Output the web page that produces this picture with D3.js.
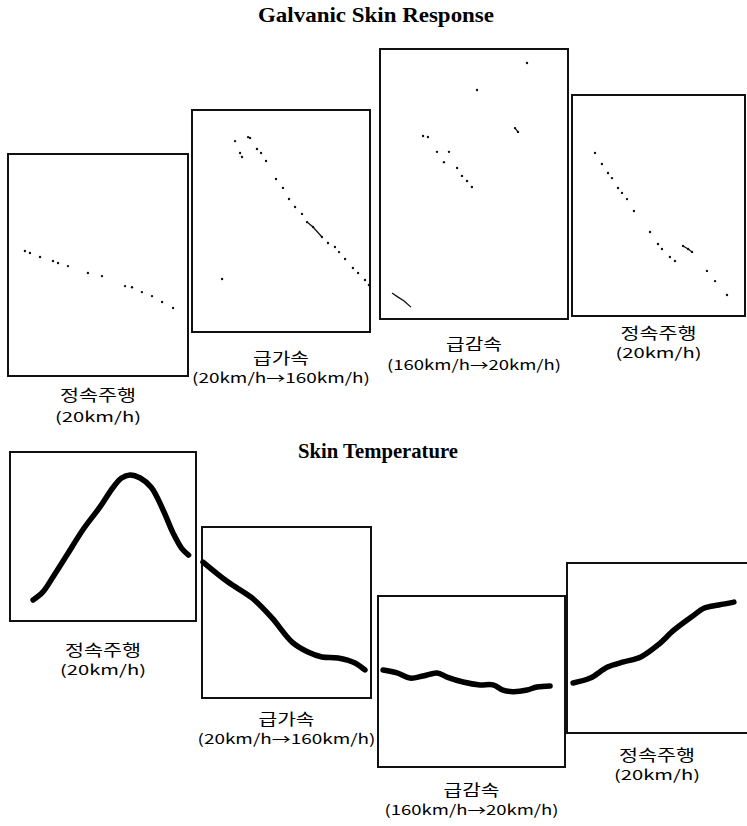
<!DOCTYPE html>
<html>
<head>
<meta charset="utf-8">
<script src="https://cdn.jsdelivr.net/npm/d3@7"></script>
<style>
  body { margin: 0; background: #fff; }
  .title { font-family: "Liberation Serif", "DejaVu Serif", serif; font-weight: bold; font-size: 21px; }
  .name { font-family: "Noto Sans CJK KR", sans-serif; font-size: 16px; }
  .speed { font-family: "Noto Sans CJK KR", sans-serif; font-size: 14px; }
</style>
</head>
<body>
<svg id="chart"></svg>
<script>
var width = 747, height = 826;

// titles and panel labels
var titles = ["Galvanic Skin Response", "Skin Temperature"];
var condNames = ["정속주행", "급가속", "급감속", "정속주행"];
var condSpeeds = ["(20km/h)", "(20km/h→160km/h)", "(160km/h→20km/h)", "(20km/h)"];

// GSR: scattered dots, [time (0-1), level (0-1)]
var gsrDots1 = [[.094,.563],[.122,.554],[.178,.536],[.25,.518],[.278,.509],[.333,.495],[.444,.464],
  [.522,.45],[.65,.405],[.689,.40],[.744,.378],[.80,.36],[.856,.333],[.917,.306]];
var gsrDots2 = [[.242,.86],[.315,.878],[.326,.874],[.27,.806],[.281,.788],[.365,.824],[.388,.806],
  [.416,.77],[.472,.689],[.511,.649],[.545,.599],[.579,.563],[.618,.532],[.646,.495],[.68,.473],
  [.73,.428],[.764,.401],[.803,.383],[.826,.36],[.86,.329],[.904,.288],[.933,.266],[.972,.234],
  [.994,.212],[.169,.239]];
var gsrDots3 = [[.782,.948],[.516,.848],[.718,.707],[.734,.693],[.229,.678],[.255,.674],[.303,.619],
  [.367,.619],[.34,.581],[.41,.559],[.436,.53],[.463,.511],[.489,.489]];
var gsrDots4 = [[.133,.738],[.173,.688],[.208,.647],[.231,.624],[.266,.579],[.289,.557],[.318,.529],
  [.358,.475],[.451,.38],[.497,.326],[.52,.303],[.566,.267],[.595,.249],[.642,.317],[.671,.303],
  [.694,.29],[.78,.204],[.827,.158],[.896,.095]];
// short continuous bits of the GSR trace
var gsrStrokes2 = [[[.646,.495],[.68,.473],[.73,.428]]];
var gsrStrokes3 = [[[.064,.096],[.096,.081],[.128,.067],[.165,.044]], [[.718,.707],[.734,.693]]];
var gsrStrokes4 = [[[.642,.317],[.671,.303],[.694,.29]]];

// Skin temperature traces
var st1 = [[.124,.124],[.177,.172],[.231,.26],[.306,.39],[.392,.54],[.484,.675],[.554,.79],[.60,.846],
  [.645,.864],[.70,.846],[.76,.79],[.823,.657],[.877,.52],[.923,.43],[.96,.39]];
var st2 = [[.006,.795],[.154,.678],[.296,.585],[.414,.468],[.533,.327],[.627,.269],[.71,.24],
  [.805,.234],[.905,.205],[.964,.164]];
var st3 = [[.027,.567],[.102,.55],[.171,.52],[.241,.532],[.316,.55],[.369,.526],[.455,.497],[.545,.48],
  [.615,.48],[.668,.45],[.722,.44],[.797,.45],[.85,.468],[.92,.474]];
var st4 = [[.033,.294],[.126,.323],[.219,.388],[.306,.418],[.399,.447],[.492,.518],[.579,.606],
  [.672,.682],[.743,.735],[.82,.753],[.902,.77]];

// box placement (pixels) for each panel, label line positions and widths
var nameW = [76, 56, 56, 76];
var speedW = [86, 178, 174, 86];
var gsrBoxes = [
  {x0: 8, x1: 188, y0: 154, y1: 376, ly: 395, gap: 22},
  {x0: 192, x1: 370, y0: 110, y1: 332, ly: 358, gap: 20},
  {x0: 380, x1: 568, y0: 49, y1: 319, ly: 344, gap: 21},
  {x0: 572, x1: 745, y0: 95, y1: 316, ly: 333, gap: 20}
];
var stBoxes = [
  {x0: 10, x1: 196, y0: 452, y1: 621, ly: 650, gap: 20},
  {x0: 202, x1: 371, y0: 527, y1: 698, ly: 719, gap: 20},
  {x0: 378, x1: 565, y0: 596, y1: 767, ly: 790, gap: 20},
  {x0: 567, x1: 752, y0: 563, y1: 733, ly: 755, gap: 20}
];

var gsrDots = [gsrDots1, gsrDots2, gsrDots3, gsrDots4];
var gsrStrokes = [[], gsrStrokes2, gsrStrokes3, gsrStrokes4];
var stData = [st1, st2, st3, st4];

var svg = d3.select("#chart").attr("width", width).attr("height", height);

svg.append("text").attr("class", "title").attr("x", 376).attr("y", 22)
  .attr("text-anchor", "middle").attr("textLength", 236).attr("lengthAdjust", "spacingAndGlyphs")
  .text(titles[0]);
svg.append("text").attr("class", "title").attr("x", 378).attr("y", 458)
  .attr("text-anchor", "middle").attr("textLength", 160).attr("lengthAdjust", "spacingAndGlyphs")
  .text(titles[1]);

function drawPanel(b, i) {
  var x = d3.scaleLinear().domain([0, 1]).range([b.x0, b.x1]);
  var y = d3.scaleLinear().domain([0, 1]).range([b.y1, b.y0]);
  var g = svg.append("g");
  g.append("rect")
    .attr("x", b.x0).attr("y", b.y0)
    .attr("width", b.x1 - b.x0).attr("height", b.y1 - b.y0)
    .attr("fill", "none").attr("stroke", "#111").attr("stroke-width", 2);
  var cx = (b.x0 + Math.min(b.x1, 747)) / 2;
  g.append("text").attr("class", "name").attr("x", cx).attr("y", b.ly).attr("dy", "0.35em")
    .attr("text-anchor", "middle").attr("textLength", nameW[i]).attr("lengthAdjust", "spacingAndGlyphs")
    .text(condNames[i]);
  g.append("text").attr("class", "speed").attr("x", cx).attr("y", b.ly + b.gap).attr("dy", "0.35em")
    .attr("text-anchor", "middle").attr("textLength", speedW[i]).attr("lengthAdjust", "spacingAndGlyphs")
    .text(condSpeeds[i]);
  return {g: g, x: x, y: y};
}

gsrBoxes.forEach(function(b, i) {
  var p = drawPanel(b, i);
  var line = d3.line().x(function(d) { return p.x(d[0]); }).y(function(d) { return p.y(d[1]); });
  p.g.selectAll("path.stroke")
    .data(gsrStrokes[i])
    .enter().append("path")
      .attr("class", "stroke")
      .attr("d", line)
      .attr("fill", "none").attr("stroke", "#111").attr("stroke-width", 1.3);
  p.g.selectAll("circle")
    .data(gsrDots[i])
    .enter().append("circle")
      .attr("cx", function(d) { return p.x(d[0]); })
      .attr("cy", function(d) { return p.y(d[1]); })
      .attr("r", 1.2)
      .attr("fill", "#111");
});

stBoxes.forEach(function(b, i) {
  var p = drawPanel(b, i);
  var line = d3.line()
    .x(function(d) { return p.x(d[0]); })
    .y(function(d) { return p.y(d[1]); })
    .curve(d3.curveCatmullRom);
  p.g.append("path")
    .datum(stData[i])
    .attr("d", line)
    .attr("fill", "none").attr("stroke", "#000")
    .attr("stroke-width", 5.5).attr("stroke-linecap", "round").attr("stroke-linejoin", "round");
});
</script>
</body>
</html>
